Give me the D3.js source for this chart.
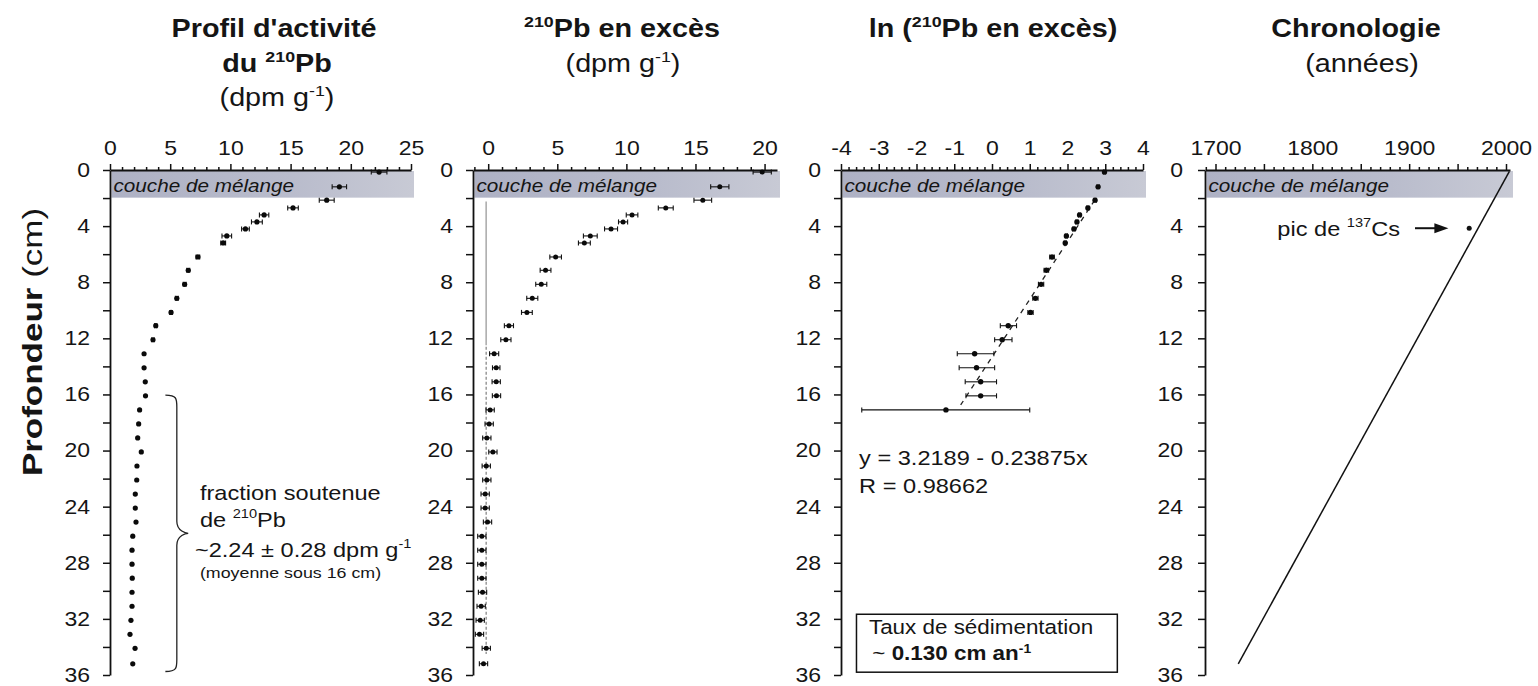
<!DOCTYPE html>
<html><head><meta charset="utf-8">
<script src="https://cdn.jsdelivr.net/npm/d3@7"></script>
<style>
body{margin:0;background:#fff;}
text{font-family:Arial,"Liberation Sans",Helvetica,sans-serif;}
</style></head><body>
<svg id="c" width="1538" height="686"></svg>
<script>
// ---------------- DATA ----------------
const depth = [0.15,1.2,2.15,2.7,3.2,3.7,4.2,4.7,5.2,6.2,7.15,8.15,9.15,10.15,11.1,12.1,13.1,14.1,15.1,16.1,
  17.1,18.1,19.1,20.1,21.1,22.1,23.1,24.1,25.1,26.1,27.1,28.1,29.1,30.1,31.1,32.1,33.1,34.1,35.2];
// total 210Pb activity (dpm/g)
const totalPb = [22.35,19.05,18.0,15.2,12.8,12.2,11.25,9.7,9.4,7.3,6.5,6.2,5.55,5.07,3.8,3.57,2.83,2.83,2.93,2.95,
  2.46,2.38,2.3,2.6,2.24,2.22,2.1,2.1,2.16,1.89,1.83,1.83,1.85,1.83,1.83,1.74,1.66,2.08,1.89];
const totalErr = [0.65,0.6,0.62,0.44,0.39,0.45,0.32,0.4,0.2,0.15,0.12,0.12,0.12,0.1,0.1,0.1,0,0,0,0,
  0,0,0,0,0,0,0,0,0,0,0,0,0,0,0,0,0,0,0];
// excess 210Pb (dpm/g)
const excessPb = [19.83,16.76,15.53,12.85,10.41,9.76,8.89,7.39,6.96,4.88,4.15,3.84,3.19,2.8,1.5,1.28,0.43,0.58,0.58,0.6,
  0.14,0.07,-0.1,0.34,-0.14,-0.1,-0.22,-0.22,-0.05,-0.46,-0.46,-0.46,-0.46,-0.41,-0.51,-0.58,-0.63,-0.14,-0.34];
const excessErr = [0.66,0.66,0.64,0.54,0.42,0.33,0.47,0.5,0.43,0.42,0.39,0.4,0.4,0.39,0.33,0.37,0.33,0.27,0.3,0.3,
  0.3,0.3,0.3,0.3,0.3,0.3,0.3,0.3,0.3,0.3,0.3,0.3,0.3,0.3,0.3,0.3,0.3,0.3,0.3];
// supported-level guide lines in panel 2
const guideValue = -0.15;
const guideSolidDepth = [2.25, 12.5];
const guideDashDepth = [12.6, 34.5];
// ln(excess 210Pb) — first 21 depths
const lnPb   = [2.98,2.81,2.73,2.54,2.32,2.25,2.17,1.97,1.94,1.59,1.44,1.30,1.15,1.02,0.43,0.27,-0.46,-0.41,-0.3,-0.3,-1.22];
const lnLo   = [2.95,2.78,2.70,2.51,2.29,2.22,2.14,1.94,1.91,1.53,1.38,1.23,1.08,0.95,0.22,0.07,-0.92,-0.87,-0.71,-0.69,-3.45];
const lnHi   = [3.01,2.84,2.76,2.57,2.35,2.28,2.20,2.00,1.97,1.65,1.5,1.37,1.22,1.09,0.65,0.53,0.05,0.07,0.12,0.12,1.0];
const fitDepth = [2.15, 16.75];
const fitLn    = [2.72, -0.83];
// chronology
const chronoDepth = [0.1, 35.2];
const chronoYear  = [2003.5, 1723.5];
const csYear = 1962, csDepth = 4.15;
// tick labels
const ticks1 = [0,5,10,15,20,25];
const ticks2 = [0,5,10,15,20];
const ticks3 = [-4,-3,-2,-1,0,1,2,3,4];
const ticks4 = [1700,1800,1900,2000];
const depthTicks = d3.range(0, 37, 2);

// ---------------- LAYOUT ----------------
const SX = 1.15;
const svg = d3.select('#c');
const y = d3.scaleLinear().domain([0,36]).range([170,675]);

const defs = svg.append('defs');
const grad = defs.append('linearGradient').attr('id','band').attr('x1','0').attr('x2','1');
grad.append('stop').attr('offset','0').attr('stop-color','#aeb1c4');
grad.append('stop').attr('offset','0.6').attr('stop-color','#b9bccc');
grad.append('stop').attr('offset','1').attr('stop-color','#c8cad5');

function rich(g, x, yy, parts, o={}) {
  const size=o.size||20;
  const t = g.append('text')
    .attr('transform', `translate(${x},${yy}) scale(${o.sx||SX},1)` + (o.rotate?` rotate(${o.rotate})`:''))
    .attr('font-size', size).attr('font-weight', o.weight||'normal').attr('font-style', o.style||'normal')
    .attr('text-anchor', o.anchor||'start').attr('fill','#151515');
  let shift=0;
  parts.forEach(p=>{
    if(typeof p==='string') p={t:p};
    const s = t.append('tspan').text(p.t);
    if(p.w) s.attr('font-weight',p.w);
    const target = p.sup ? -size*(o.supRaise||0.42) : 0;
    s.attr('font-size', p.sup ? size*0.62 : size);
    if(target!==shift){ s.attr('dy', target-shift); shift=target; }
  });
  return t;
}

function stretchTicks(sel, dx=0){
  sel.selectAll('.tick text').each(function(){
    const t=d3.select(this);
    const tx=(+t.attr('x')||0)+dx, ty=+t.attr('y')||0;
    t.attr('x',0).attr('y',0).attr('transform',`translate(${tx},${ty}) scale(${SX},1)`);
  });
}
const fmt = d => String(d);

function panel(x, major, minor, semi, yPad) {
  const g = svg.append('g');
  const [r0,r1] = x.range();
  g.append('rect').attr('x',r0+1.5).attr('y',y(0)+1).attr('width',r1-r0+1.5)
    .attr('height',y(1.9)-y(0)).attr('fill','url(#band)');
  const ax = g.append('g').attr('transform',`translate(0,${y(0)})`)
    .call(d3.axisTop(x).tickValues(major).tickFormat(fmt).tickSize(6).tickPadding(9).tickSizeOuter(0));
  ax.selectAll('text').attr('font-size',20).attr('fill','#151515').attr('font-family',null);
  stretchTicks(ax);
  if(semi.length){
    g.append('g').attr('transform',`translate(0,${y(0)})`)
      .call(d3.axisTop(x).tickValues(semi).tickSize(6).tickFormat('').tickSizeOuter(0))
      .select('.domain').remove();
  }
  g.append('g').attr('transform',`translate(0,${y(0)})`)
    .call(d3.axisTop(x).tickValues(minor).tickSize(3).tickFormat('').tickSizeOuter(0))
    .select('.domain').remove();
  const ay = g.append('g').attr('transform',`translate(${r0},0)`)
    .call(d3.axisLeft(y).tickValues(depthTicks).tickSize(7).tickPadding(yPad).tickSizeOuter(0)
      .tickFormat(d=> d%4===0 ? String(d) : ''));
  ay.selectAll('text').attr('font-size',20).attr('fill','#151515').attr('font-family',null);
  stretchTicks(ay);
  g.selectAll('.domain,.tick line').attr('stroke','#111').attr('stroke-width',1.5);
  g.selectAll('.domain').attr('stroke-width',1.8);
  rich(g, r0+3.5, y(1.55), ['couche de mélange'], {size:18, style:'italic'});
  return g;
}
function minorVals(a,b,step,exclude){
  const n=Math.round((b-a)/step);
  return d3.range(n+1).map(i=>+(a+i*step).toFixed(4)).filter(v=>!exclude.some(e=>Math.abs(e-v)<1e-6));
}
function errBars(g, xs, data, cap=2.5){
  const eb = g.append('g').attr('stroke','#111').attr('stroke-width',1.1);
  data.forEach(d=>{
    if(d.hi-d.lo<=0) return;
    const yy=y(d.depth);
    eb.append('line').attr('x1',xs(d.lo)).attr('x2',xs(d.hi)).attr('y1',yy).attr('y2',yy);
    eb.append('line').attr('x1',xs(d.lo)).attr('x2',xs(d.lo)).attr('y1',yy-cap).attr('y2',yy+cap);
    eb.append('line').attr('x1',xs(d.hi)).attr('x2',xs(d.hi)).attr('y1',yy-cap).attr('y2',yy+cap);
  });
}
function dots(g, xs, data, r){
  g.append('g').selectAll('circle').data(data).join('circle')
    .attr('cx',d=>xs(d.v)).attr('cy',d=>y(d.depth)).attr('r',r).attr('fill','#0a0a0a');
}

// ---- Panel 1 ----
const x1 = d3.scaleLinear().domain([0,25]).range([110,411]);
const g1 = panel(x1, ticks1, minorVals(0,25,1,ticks1), [], 13);
const d1 = depth.map((d,i)=>({depth:d, v:totalPb[i], lo:totalPb[i]-totalErr[i], hi:totalPb[i]+totalErr[i]}));
errBars(g1, x1, d1);
dots(g1, x1, d1, 2.6);
{
  const bx0=x1(4.6), bx1=x1(5.55), bxt=x1(6.5), yt=y(16.05), ym=y(25.9), yb=y(35.75), r=12;
  const p = d3.path();
  p.moveTo(bx0,yt);
  p.bezierCurveTo(bx1,yt, bx1,yt+r*0.3, bx1,yt+r);
  p.lineTo(bx1,ym-r);
  p.bezierCurveTo(bx1,ym-2, bxt-2,ym, bxt,ym);
  p.bezierCurveTo(bxt-2,ym, bx1,ym+2, bx1,ym+r);
  p.lineTo(bx1,yb-r);
  p.bezierCurveTo(bx1,yb-r*0.3, bx1,yb, bx0,yb);
  g1.append('path').attr('d',p.toString()).attr('fill','none').attr('stroke','#222').attr('stroke-width',1.3);
}
rich(g1, x1(7.47), y(23.52), ['fraction soutenue'], {size:20.5});
rich(g1, x1(7.47), y(25.42), ['de ', {t:'210',sup:true}, 'Pb'], {size:20.5});
rich(g1, x1(7.05), y(27.56), ['~2.24 ± 0.28 dpm g', {t:'-1',sup:true}], {size:20.5});
rich(g1, x1(7.47), y(29.1), ['(moyenne sous 16 cm)'], {size:15.5});

// ---- Panel 2 ----
const x2 = d3.scaleLinear().domain([-1.1,20.9]).range([473,777]);
const g2 = panel(x2, ticks2, minorVals(-1,20,1,ticks2), [], 13);
g2.append('line').attr('x1',x2(guideValue)).attr('x2',x2(guideValue))
  .attr('y1',y(guideSolidDepth[0])).attr('y2',y(guideSolidDepth[1])).attr('stroke','#9a9a9a').attr('stroke-width',1.3);
g2.append('line').attr('x1',x2(guideValue)).attr('x2',x2(guideValue))
  .attr('y1',y(guideDashDepth[0])).attr('y2',y(guideDashDepth[1])).attr('stroke','#555')
  .attr('stroke-width',0.9).attr('stroke-dasharray','3,2');
const d2 = depth.map((d,i)=>({depth:d, v:excessPb[i], lo:excessPb[i]-excessErr[i], hi:excessPb[i]+excessErr[i]}));
errBars(g2, x2, d2, 2.5);
dots(g2, x2, d2, 2.5);

// ---- Panel 3 ----
const x3 = d3.scaleLinear().domain([-4,4]).range([841,1143]);
const g3 = panel(x3, ticks3, minorVals(-4,4,0.2,ticks3), [], 13);
g3.append('line').attr('x1',x3(fitLn[0])).attr('y1',y(fitDepth[0])).attr('x2',x3(fitLn[1])).attr('y2',y(fitDepth[1]))
  .attr('stroke','#222').attr('stroke-width',1.3).attr('stroke-dasharray','5,5');
const d3d = lnPb.map((v,i)=>({depth:depth[i], v, lo:lnLo[i], hi:lnHi[i]}));
errBars(g3, x3, d3d, 2.5);
dots(g3, x3, d3d, 2.7);
rich(g3, x3(-3.52), y(21.03), ['y = 3.2189 - 0.23875x'], {size:20.5});
rich(g3, x3(-3.52), y(23.02), ['R = 0.98662'], {size:20.5});
g3.append('rect').attr('x',x3(-3.59)).attr('y',y(31.67)).attr('width',x3(3.32)-x3(-3.59))
  .attr('height',y(35.8)-y(31.67)).attr('fill','none').attr('stroke','#111').attr('stroke-width',1.5);
rich(g3, x3(-3.26), y(33.05), ['Taux de sédimentation'], {size:19.5});
rich(g3, x3(-3.17), y(34.9), ['~ ', {t:'0.130 cm an',w:'bold'}, {t:'-1',sup:true,w:'bold'}], {size:19.5, supRaise:0.36});

// ---- Panel 4 ----
const x4 = d3.scaleLinear().domain([1700,2000]).range([1215.5,1506]);
x4.domain([x4.invert(1205), x4.invert(1510)]).range([1205,1510]);
const g4 = panel(x4, ticks4, minorVals(1690,2000,10,[1700,1750,1800,1850,1900,1950,2000]), [1750,1850,1950], 15);
g4.append('line').attr('x1',x4(chronoYear[0])).attr('y1',y(chronoDepth[0]))
  .attr('x2',x4(chronoYear[1])).attr('y2',y(chronoDepth[1])).attr('stroke','#111').attr('stroke-width',1.5);
g4.append('circle').attr('cx',x4(csYear)).attr('cy',y(csDepth)).attr('r',2.5).attr('fill','#111');
rich(g4, x4(1890.5), y(4.7), ['pic de ', {t:'137',sup:true}, 'Cs'], {size:20.5, anchor:'end'});
{
  const ax0=x4(1906), ax1=x4(1940.5), ay=y(csDepth);
  g4.append('line').attr('x1',ax0).attr('x2',ax1-10).attr('y1',ay).attr('y2',ay).attr('stroke','#111').attr('stroke-width',2);
  g4.append('path').attr('d',`M${ax1},${ay} L${ax1-14},${ay-5} L${ax1-14},${ay+5} Z`).attr('fill','#111');
}

// ---- Titles ----
const T = svg.append('g');
rich(T, 274, 37, ["Profil d'activité"], {size:25, weight:'bold', anchor:'middle'});
rich(T, 277, 72, ['du ', {t:'210',sup:true}, 'Pb'], {size:25, weight:'bold', anchor:'middle'});
rich(T, 277, 106, ['(dpm g', {t:'-1',sup:true}, ')'], {size:25, anchor:'middle'});
rich(T, 622, 37, [{t:'210',sup:true}, 'Pb en excès'], {size:25, weight:'bold', anchor:'middle'});
rich(T, 623, 72, ['(dpm g', {t:'-1',sup:true}, ')'], {size:25, anchor:'middle'});
rich(T, 993, 37, ['ln (', {t:'210',sup:true}, 'Pb en excès)'], {size:25, weight:'bold', anchor:'middle'});
rich(T, 1356, 37, ['Chronologie'], {size:25, weight:'bold', anchor:'middle'});
rich(T, 1362, 72, ['(années)'], {size:25, anchor:'middle'});
rich(T, 42, 342, [{t:'Profondeur ',w:'bold'}, '(cm)'], {size:35, sx:0.8, anchor:'middle', rotate:-90});
</script>
</body></html>
